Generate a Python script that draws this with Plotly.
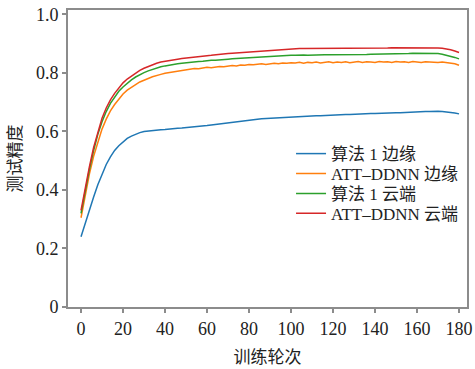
import plotly.graph_objects as go

epochs = list(range(0, 181, 2))

alg1_edge = [
    0.240, 0.287, 0.332, 0.376, 0.418, 0.455, 0.487, 0.513, 0.535, 0.551,
    0.565, 0.576, 0.584, 0.591, 0.596, 0.600, 0.602, 0.604, 0.605, 0.606,
    0.607, 0.609, 0.610, 0.611, 0.612, 0.613, 0.614, 0.615, 0.616, 0.618,
    0.620, 0.622, 0.624, 0.626, 0.628, 0.630, 0.632, 0.634, 0.636, 0.638,
    0.640, 0.641, 0.642, 0.643, 0.644, 0.645, 0.646, 0.647, 0.648, 0.649,
    0.650, 0.650, 0.651, 0.652, 0.652, 0.653, 0.654, 0.654, 0.655, 0.656,
    0.656, 0.657, 0.657, 0.658, 0.658, 0.659, 0.659, 0.660, 0.660, 0.661,
    0.661, 0.662, 0.662, 0.663, 0.663, 0.664, 0.664, 0.665, 0.665, 0.666,
    0.667, 0.667, 0.668, 0.668, 0.669, 0.669, 0.668, 0.667, 0.665, 0.663,
    0.660,
]

att_edge = [
    0.305, 0.385, 0.455, 0.515, 0.565, 0.608, 0.642, 0.670, 0.692, 0.712,
    0.728, 0.741, 0.752, 0.760, 0.769, 0.776, 0.781, 0.787, 0.790, 0.795,
    0.799, 0.801, 0.805, 0.806, 0.809, 0.811, 0.812, 0.815, 0.814, 0.817,
    0.819, 0.818, 0.821, 0.822, 0.821, 0.824, 0.825, 0.824, 0.827, 0.826,
    0.829, 0.828, 0.830, 0.831, 0.829, 0.832, 0.833, 0.831, 0.834, 0.833,
    0.835, 0.834, 0.836, 0.833, 0.836, 0.835, 0.837, 0.834, 0.836, 0.838,
    0.835, 0.837, 0.836, 0.838, 0.835, 0.837, 0.839, 0.836, 0.838, 0.837,
    0.836, 0.839, 0.837, 0.838, 0.836, 0.839, 0.837, 0.838, 0.836, 0.839,
    0.838, 0.836, 0.838, 0.837, 0.838, 0.836, 0.837, 0.835, 0.834, 0.831,
    0.826,
]

alg1_cloud = [
    0.320, 0.400, 0.470, 0.535, 0.590, 0.633, 0.668, 0.696, 0.718, 0.737,
    0.752, 0.765, 0.776, 0.786, 0.794, 0.801, 0.807, 0.812, 0.817, 0.821,
    0.824, 0.827, 0.829, 0.831, 0.833, 0.835, 0.836, 0.838, 0.839, 0.840,
    0.842, 0.843, 0.843, 0.845, 0.846, 0.847, 0.848, 0.848, 0.850, 0.851,
    0.852, 0.852, 0.854, 0.855, 0.855, 0.856, 0.857, 0.858, 0.858, 0.859,
    0.860, 0.860, 0.861, 0.861, 0.860, 0.861, 0.862, 0.861, 0.862, 0.862,
    0.862, 0.861, 0.862, 0.863, 0.862, 0.863, 0.863, 0.862, 0.863, 0.864,
    0.864, 0.864, 0.865, 0.864, 0.865, 0.866, 0.866, 0.865, 0.866, 0.867,
    0.867, 0.867, 0.868, 0.867, 0.867, 0.866, 0.864, 0.861, 0.858, 0.853,
    0.848,
]

att_cloud = [
    0.330, 0.410, 0.480, 0.545, 0.600, 0.645, 0.680, 0.708, 0.730, 0.750,
    0.766, 0.779, 0.790, 0.800, 0.809, 0.816, 0.822, 0.828, 0.833, 0.837,
    0.840, 0.843, 0.845, 0.847, 0.849, 0.851, 0.853, 0.854, 0.856, 0.857,
    0.859, 0.860, 0.862, 0.863, 0.864, 0.866, 0.867, 0.868, 0.870, 0.871,
    0.872, 0.873, 0.875, 0.876, 0.877, 0.878, 0.879, 0.880, 0.881, 0.881,
    0.882, 0.882, 0.883, 0.883, 0.883, 0.884, 0.883, 0.884, 0.884, 0.883,
    0.884, 0.884, 0.883, 0.884, 0.884, 0.884, 0.883, 0.884, 0.884, 0.885,
    0.885, 0.884, 0.885, 0.885, 0.886, 0.886, 0.886, 0.886, 0.887, 0.887,
    0.887, 0.887, 0.887, 0.887, 0.886, 0.885, 0.884, 0.882, 0.879, 0.875,
    0.870,
]

series_names = ["算法 1 边缘", "ATT–DDNN 边缘", "算法 1 云端", "ATT–DDNN 云端"]
series_values = [alg1_edge, att_edge, alg1_cloud, att_cloud]
series_colors = ["#1f77b4", "#ff7f0e", "#2ca02c", "#d62728"]

x_ticks = [0, 20, 40, 60, 80, 100, 120, 140, 160, 180]
y_ticks = [0, 0.2, 0.4, 0.6, 0.8, 1.0]
y_tick_labels = ["0", "0.2", "0.4", "0.6", "0.8", "1.0"]

FONT = "Liberation Serif, 'Noto Sans CJK SC', serif"

legend_ids = ["legend", "legend2", "legend3", "legend4"]
legend_rows_y = [0.515, 0.448, 0.381, 0.314]

fig = go.Figure()
for name, vals, col, lid in zip(series_names, series_values, series_colors, legend_ids):
    fig.add_trace(go.Scatter(x=epochs, y=vals, mode="lines", name=name, legend=lid,
                             line=dict(color=col, width=1.5)))

axis_common = dict(showline=True, linecolor="#8c8c8c", linewidth=2, mirror=True,
                   showgrid=False, zeroline=False, ticks="outside", ticklen=4,
                   tickcolor="#8c8c8c", tickwidth=1.5, automargin=False,
                   tickfont=dict(family=FONT, size=18, color="#222"))

legend_layout = {}
for lid, ly in zip(legend_ids, legend_rows_y):
    legend_layout[lid] = dict(x=0.559, y=ly, xanchor="left", yanchor="middle",
                              bgcolor="rgba(0,0,0,0)", font=dict(family=FONT, size=17),
                              itemwidth=30, tracegroupgap=0)

fig.update_layout(
    width=475, height=369,
    margin=dict(l=68, r=8, t=10, b=62),
    paper_bgcolor="white", plot_bgcolor="white",
    font=dict(family=FONT, color="#222"),
    xaxis=dict(range=[-6.2, 183.8], tickvals=x_ticks,
               title=dict(text="训练轮次", font=dict(family=FONT, size=17), standoff=14),
               **axis_common),
    yaxis=dict(range=[0, 1.015], tickvals=y_ticks, ticktext=y_tick_labels,
               title=dict(text="测试精度", font=dict(family=FONT, size=17), standoff=10),
               **axis_common),
    showlegend=True,
    **legend_layout,
)

fig.write_html("out.html", config={"displayModeBar": False},
               post_script="document.body.style.margin='0';document.body.style.padding='0';")
